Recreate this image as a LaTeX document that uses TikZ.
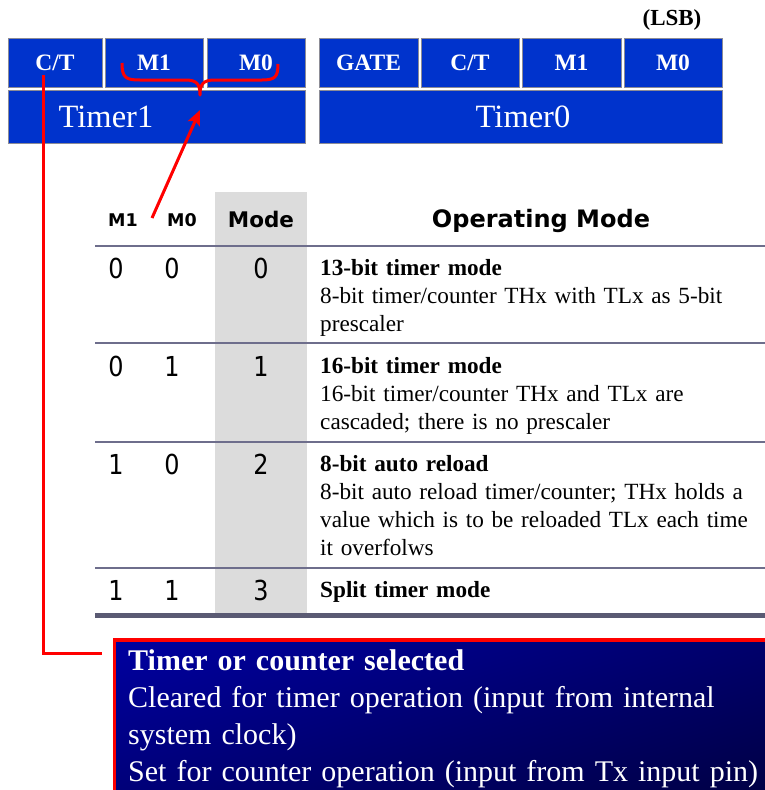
\documentclass[tikz,border=0pt]{standalone}
\usepackage{fontspec}
\setmainfont{Liberation Serif}
\newfontfamily\tahb{DejaVu Sans}
\newfontfamily\tahn[FakeStretch=0.87]{DejaVu Sans}
\usetikzlibrary{arrows.meta,shadings}
\definecolor{cellblue}{RGB}{0,51,204}
\definecolor{cellrim}{RGB}{140,140,150}
\definecolor{rulegray}{RGB}{110,110,140}
\definecolor{thickrule}{RGB}{90,90,115}
\definecolor{modegray}{RGB}{220,220,220}
\definecolor{mred}{RGB}{255,0,0}
\definecolor{boxA}{RGB}{0,0,160}
\definecolor{boxB}{RGB}{0,0,105}
\definecolor{boxC}{RGB}{0,0,115}
\definecolor{boxD}{RGB}{0,0,60}
\begin{document}
\begin{tikzpicture}[x=1pt,y=-1pt,
  bitcell/.style={draw=cellrim, line width=1pt, fill=cellblue, inner sep=0pt, outer sep=0pt,
    minimum height=49pt, text=white, font=\fontsize{23.5}{25}\selectfont\bfseries},
  barcell/.style={draw=cellrim, line width=1pt, fill=cellblue, inner sep=0pt, outer sep=0pt,
    minimum height=53pt},
  barlabel/.style={text=white, inner sep=0pt, anchor=base, font=\fontsize{32.5}{35}\selectfont},
  hdrsmall/.style={inner sep=0pt, anchor=base, font=\fontsize{17.5}{20}\selectfont\tahb\bfseries},
  digit/.style={inner sep=0pt, anchor=base, font=\fontsize{27.5}{30}\selectfont\tahn},
  desc/.style={inner sep=0pt, anchor=base west, text width=470pt, align=left,
    font=\fontsize{23.2}{28}\selectfont},
  rowrule/.style={draw=rulegray, line width=2pt},
  redline/.style={draw=mred, line width=3pt},
]
\clip (0,0) rectangle (765,790);
\fill[white] (0,0) rectangle (765,790);

% ---- Timer1 ----
\node[bitcell, minimum width=94pt] (t1ct) at (55,62.5) {C/T};
\node[bitcell, minimum width=98pt] (t1m1) at (154,62.5) {M1};
\node[bitcell, minimum width=98pt] (t1m0) at (256,62.5) {M0};
\node[barcell, minimum width=297pt] (t1bar) at (156.5,116.5) {};
\node[barlabel] (t1label) at (106,127) {Timer1};

% ---- Timer0 ----
\node[bitcell, minimum width=99pt] (t0gate) at (368.5,62.5) {GATE};
\node[bitcell, minimum width=98pt] (t0ct) at (470,62.5) {C/T};
\node[bitcell, minimum width=99pt] (t0m1) at (571.5,62.5) {M1};
\node[bitcell, minimum width=98pt] (t0m0) at (673,62.5) {M0};
\node[barcell, minimum width=403pt] (t0bar) at (520.5,116.5) {};
\node[barlabel] (t0label) at (523,127) {Timer0};
\node[inner sep=0pt, anchor=base, font=\fontsize{23}{25}\selectfont\bfseries] (lsb) at (672,25) {(LSB)};

% ---- table ----
\fill[modegray] (215,192) rectangle (307,613);
\draw[rowrule] (95,246) -- (765,246);
\draw[rowrule] (95,343) -- (765,343);
\draw[rowrule] (95,442) -- (765,442);
\draw[rowrule] (95,568) -- (765,568);
\draw[draw=thickrule, line width=5pt] (95,615.5) -- (765,615.5);

\node[hdrsmall] (hm1) at (123,226) {M1};
\node[hdrsmall] (hm0) at (182,226) {M0};
\node[inner sep=0pt, anchor=base, font=\fontsize{21.5}{24}\selectfont\tahb\bfseries] (hmode) at (261,227) {Mode};
\node[inner sep=0pt, anchor=base, font=\fontsize{24}{27}\selectfont\tahb\bfseries] (hop) at (541,227) {Operating Mode};

% row 1
\node[digit] (r1a) at (116,278) {0};
\node[digit] (r1b) at (172,278) {0};
\node[digit] (r1c) at (261,278) {0};
\node[desc] (r1d) at (320,275) {\textbf{13-bit timer mode}\\8-bit timer/counter THx with TLx as 5-bit\\prescaler};
% row 2
\node[digit] (r2a) at (116,376) {0};
\node[digit] (r2b) at (172,376) {1};
\node[digit] (r2c) at (261,376) {1};
\node[desc] (r2d) at (320,373) {\textbf{16-bit timer mode}\\16-bit timer/counter THx and TLx are\\cascaded; there is no prescaler};
% row 3
\node[digit] (r3a) at (116,474) {1};
\node[digit] (r3b) at (172,474) {0};
\node[digit] (r3c) at (261,474) {2};
\node[desc] (r3d) at (320,471) {\textbf{8-bit auto reload}\\8-bit auto reload timer/counter; THx holds a\\value which is to be reloaded TLx each time\\it overfolws};
% row 4
\node[digit] (r4a) at (116,600) {1};
\node[digit] (r4b) at (172,600) {1};
\node[digit] (r4c) at (261,600) {3};
\node[desc] (r4d) at (320,597) {\textbf{Split timer mode}};

% ---- C/T explanation box ----
\node[draw=mred, line width=3.5pt, anchor=north west, minimum width=690pt, minimum height=175pt,
  inner sep=0pt, upper left=boxA, upper right=boxB, lower left=boxC, lower right=boxD] (ctbox) at (112.5,638) {};
\node[inner sep=0pt, anchor=base west, text width=700pt, align=left, text=white,
  font=\fontsize{30}{37.3}\selectfont] (cttext) at (128,670)
  {\textbf{Timer or counter selected}\\Cleared for timer operation (input from internal\\system clock)\\Set for counter operation (input from Tx input pin)};

% ---- red annotations ----
\coordinate (ctstart) at (43,75);
\coordinate (ctend) at (102,653);
\draw[redline] (ctstart) |- (ctend);

\coordinate (braceL) at (122,63);
\coordinate (braceR) at (278,64);
\coordinate (bracetip) at (200,95);
\draw[redline, line join=round]
  (braceL) .. controls (122,78) and (126,80) .. (140,80) -- (185,80)
  .. controls (197,80) and (200,84) .. (bracetip)
  .. controls (200,84) and (203,80) .. (215,80) -- (262,80)
  .. controls (275,80) and (278,77) .. (braceR);

\coordinate (arrtail) at (152,218);
\coordinate (arrhead) at (200,110);
\draw[redline, -{Stealth[length=15pt,width=13pt,inset=3pt]}] (arrtail) -- (arrhead);
\end{tikzpicture}
\end{document}
